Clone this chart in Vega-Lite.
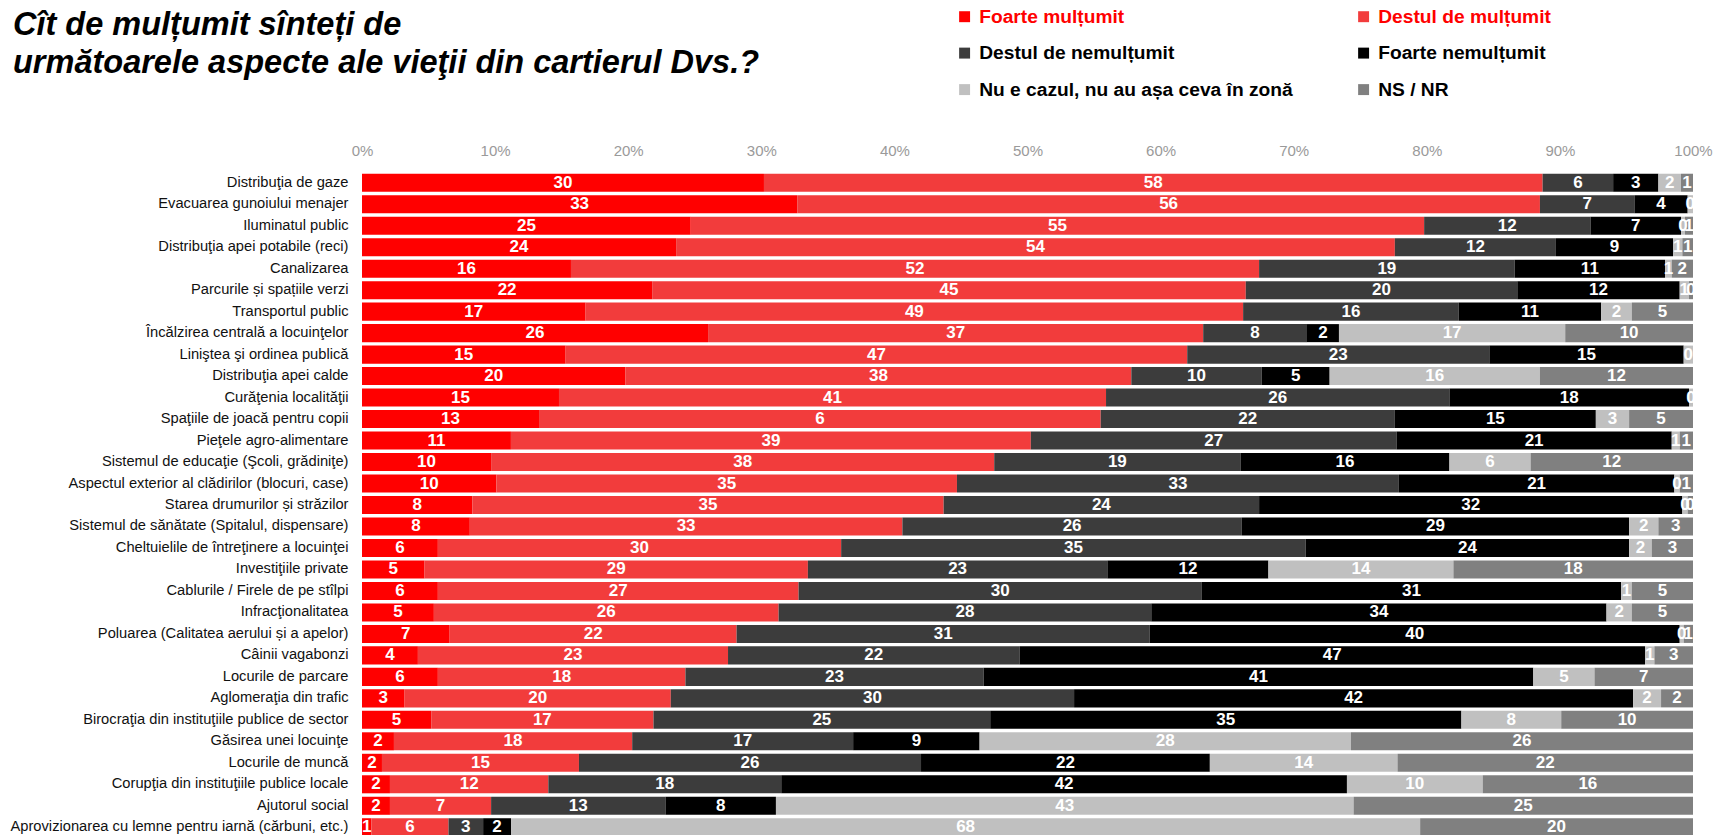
{
  "$schema": "https://vega.github.io/schema/vega-lite/v6.json",
  "autosize": "none",
  "width": 1331,
  "height": 666,
  "padding": {"left": 362, "top": 172, "right": 31, "bottom": 0},
  "background": "white",
  "title": {
    "text": ["Cît de mulțumit sînteți de", "următoarele aspecte ale vieţii din cartierul Dvs.?"],
    "anchor": "start",
    "frame": "group",
    "dx": -349,
    "dy": 72,
    "font": "Liberation Sans",
    "fontSize": 32.5,
    "fontWeight": "bold",
    "fontStyle": "italic",
    "color": "#000000",
    "lineHeight": 38,
    "offset": 0
  },
  "config": {
    "view": {"stroke": null},
    "font": "Liberation Sans"
  },
  "data": {
    "values": [
      {"a": "Distribuţia de gaze", "s": "Foarte mulțumit", "v": 30.2, "l": "30"},
      {"a": "Distribuţia de gaze", "s": "Destul de mulțumit", "v": 58.5, "l": "58"},
      {"a": "Distribuţia de gaze", "s": "Destul de nemulțumit", "v": 5.3, "l": "6"},
      {"a": "Distribuţia de gaze", "s": "Foarte nemulțumit", "v": 3.4, "l": "3"},
      {"a": "Distribuţia de gaze", "s": "Nu e cazul, nu au așa ceva în zonă", "v": 1.7, "l": "2"},
      {"a": "Distribuţia de gaze", "s": "NS / NR", "v": 0.9, "l": "1"},

      {"a": "Evacuarea gunoiului menajer", "s": "Foarte mulțumit", "v": 32.7, "l": "33"},
      {"a": "Evacuarea gunoiului menajer", "s": "Destul de mulțumit", "v": 55.8, "l": "56"},
      {"a": "Evacuarea gunoiului menajer", "s": "Destul de nemulțumit", "v": 7.1, "l": "7"},
      {"a": "Evacuarea gunoiului menajer", "s": "Foarte nemulțumit", "v": 4.0, "l": "4"},
      {"a": "Evacuarea gunoiului menajer", "s": "Nu e cazul, nu au așa ceva în zonă", "v": 0.4, "l": "0"},

      {"a": "Iluminatul public", "s": "Foarte mulțumit", "v": 24.7, "l": "25"},
      {"a": "Iluminatul public", "s": "Destul de mulțumit", "v": 55.1, "l": "55"},
      {"a": "Iluminatul public", "s": "Destul de nemulțumit", "v": 12.5, "l": "12"},
      {"a": "Iluminatul public", "s": "Foarte nemulțumit", "v": 6.8, "l": "7"},
      {"a": "Iluminatul public", "s": "Nu e cazul, nu au așa ceva în zonă", "v": 0.3, "l": "0"},
      {"a": "Iluminatul public", "s": "NS / NR", "v": 0.6, "l": "1"},

      {"a": "Distribuţia apei potabile (reci)", "s": "Foarte mulțumit", "v": 23.6, "l": "24"},
      {"a": "Distribuţia apei potabile (reci)", "s": "Destul de mulțumit", "v": 54.0, "l": "54"},
      {"a": "Distribuţia apei potabile (reci)", "s": "Destul de nemulțumit", "v": 12.1, "l": "12"},
      {"a": "Distribuţia apei potabile (reci)", "s": "Foarte nemulțumit", "v": 8.8, "l": "9"},
      {"a": "Distribuţia apei potabile (reci)", "s": "Nu e cazul, nu au așa ceva în zonă", "v": 0.7, "l": "1"},
      {"a": "Distribuţia apei potabile (reci)", "s": "NS / NR", "v": 0.8, "l": "1"},

      {"a": "Canalizarea", "s": "Foarte mulțumit", "v": 15.7, "l": "16"},
      {"a": "Canalizarea", "s": "Destul de mulțumit", "v": 51.7, "l": "52"},
      {"a": "Canalizarea", "s": "Destul de nemulțumit", "v": 19.2, "l": "19"},
      {"a": "Canalizarea", "s": "Foarte nemulțumit", "v": 11.3, "l": "11"},
      {"a": "Canalizarea", "s": "Nu e cazul, nu au așa ceva în zonă", "v": 0.5, "l": "1"},
      {"a": "Canalizarea", "s": "NS / NR", "v": 1.6, "l": "2"},

      {"a": "Parcurile și spațiile verzi", "s": "Foarte mulțumit", "v": 21.8, "l": "22"},
      {"a": "Parcurile și spațiile verzi", "s": "Destul de mulțumit", "v": 44.6, "l": "45"},
      {"a": "Parcurile și spațiile verzi", "s": "Destul de nemulțumit", "v": 20.4, "l": "20"},
      {"a": "Parcurile și spațiile verzi", "s": "Foarte nemulțumit", "v": 12.2, "l": "12"},
      {"a": "Parcurile și spațiile verzi", "s": "Nu e cazul, nu au așa ceva în zonă", "v": 0.7, "l": "1"},
      {"a": "Parcurile și spațiile verzi", "s": "NS / NR", "v": 0.3, "l": "0"},

      {"a": "Transportul public", "s": "Foarte mulțumit", "v": 16.8, "l": "17"},
      {"a": "Transportul public", "s": "Destul de mulțumit", "v": 49.4, "l": "49"},
      {"a": "Transportul public", "s": "Destul de nemulțumit", "v": 16.2, "l": "16"},
      {"a": "Transportul public", "s": "Foarte nemulțumit", "v": 10.7, "l": "11"},
      {"a": "Transportul public", "s": "Nu e cazul, nu au așa ceva în zonă", "v": 2.3, "l": "2"},
      {"a": "Transportul public", "s": "NS / NR", "v": 4.6, "l": "5"},

      {"a": "Încălzirea centrală a locuinţelor", "s": "Foarte mulțumit", "v": 26.0, "l": "26"},
      {"a": "Încălzirea centrală a locuinţelor", "s": "Destul de mulțumit", "v": 37.2, "l": "37"},
      {"a": "Încălzirea centrală a locuinţelor", "s": "Destul de nemulțumit", "v": 7.8, "l": "8"},
      {"a": "Încălzirea centrală a locuinţelor", "s": "Foarte nemulțumit", "v": 2.4, "l": "2"},
      {"a": "Încălzirea centrală a locuinţelor", "s": "Nu e cazul, nu au așa ceva în zonă", "v": 17.0, "l": "17"},
      {"a": "Încălzirea centrală a locuinţelor", "s": "NS / NR", "v": 9.6, "l": "10"},

      {"a": "Liniştea şi ordinea publică", "s": "Foarte mulțumit", "v": 15.3, "l": "15"},
      {"a": "Liniştea şi ordinea publică", "s": "Destul de mulțumit", "v": 46.7, "l": "47"},
      {"a": "Liniştea şi ordinea publică", "s": "Destul de nemulțumit", "v": 22.7, "l": "23"},
      {"a": "Liniştea şi ordinea publică", "s": "Foarte nemulțumit", "v": 14.6, "l": "15"},
      {"a": "Liniştea şi ordinea publică", "s": "Nu e cazul, nu au așa ceva în zonă", "v": 0.7, "l": "0"},

      {"a": "Distribuţia apei calde", "s": "Foarte mulțumit", "v": 19.8, "l": "20"},
      {"a": "Distribuţia apei calde", "s": "Destul de mulțumit", "v": 38.0, "l": "38"},
      {"a": "Distribuţia apei calde", "s": "Destul de nemulțumit", "v": 9.8, "l": "10"},
      {"a": "Distribuţia apei calde", "s": "Foarte nemulțumit", "v": 5.1, "l": "5"},
      {"a": "Distribuţia apei calde", "s": "Nu e cazul, nu au așa ceva în zonă", "v": 15.8, "l": "16"},
      {"a": "Distribuţia apei calde", "s": "NS / NR", "v": 11.5, "l": "12"},

      {"a": "Curăţenia localităţii", "s": "Foarte mulțumit", "v": 14.8, "l": "15"},
      {"a": "Curăţenia localităţii", "s": "Destul de mulțumit", "v": 41.1, "l": "41"},
      {"a": "Curăţenia localităţii", "s": "Destul de nemulțumit", "v": 25.8, "l": "26"},
      {"a": "Curăţenia localităţii", "s": "Foarte nemulțumit", "v": 18.0, "l": "18"},
      {"a": "Curăţenia localităţii", "s": "Nu e cazul, nu au așa ceva în zonă", "v": 0.3, "l": "0"},

      {"a": "Spaţiile de joacă pentru copii", "s": "Foarte mulțumit", "v": 13.3, "l": "13"},
      {"a": "Spaţiile de joacă pentru copii", "s": "Destul de mulțumit", "v": 42.2, "l": "6"},
      {"a": "Spaţiile de joacă pentru copii", "s": "Destul de nemulțumit", "v": 22.1, "l": "22"},
      {"a": "Spaţiile de joacă pentru copii", "s": "Foarte nemulțumit", "v": 15.1, "l": "15"},
      {"a": "Spaţiile de joacă pentru copii", "s": "Nu e cazul, nu au așa ceva în zonă", "v": 2.5, "l": "3"},
      {"a": "Spaţiile de joacă pentru copii", "s": "NS / NR", "v": 4.8, "l": "5"},

      {"a": "Pieţele agro-alimentare", "s": "Foarte mulțumit", "v": 11.2, "l": "11"},
      {"a": "Pieţele agro-alimentare", "s": "Destul de mulțumit", "v": 39.1, "l": "39"},
      {"a": "Pieţele agro-alimentare", "s": "Destul de nemulțumit", "v": 27.5, "l": "27"},
      {"a": "Pieţele agro-alimentare", "s": "Foarte nemulțumit", "v": 20.7, "l": "21"},
      {"a": "Pieţele agro-alimentare", "s": "Nu e cazul, nu au așa ceva în zonă", "v": 0.6, "l": "1"},
      {"a": "Pieţele agro-alimentare", "s": "NS / NR", "v": 1.0, "l": "1"},

      {"a": "Sistemul de educaţie (Şcoli, grădiniţe)", "s": "Foarte mulțumit", "v": 9.7, "l": "10"},
      {"a": "Sistemul de educaţie (Şcoli, grădiniţe)", "s": "Destul de mulțumit", "v": 37.8, "l": "38"},
      {"a": "Sistemul de educaţie (Şcoli, grădiniţe)", "s": "Destul de nemulțumit", "v": 18.5, "l": "19"},
      {"a": "Sistemul de educaţie (Şcoli, grădiniţe)", "s": "Foarte nemulțumit", "v": 15.7, "l": "16"},
      {"a": "Sistemul de educaţie (Şcoli, grădiniţe)", "s": "Nu e cazul, nu au așa ceva în zonă", "v": 6.1, "l": "6"},
      {"a": "Sistemul de educaţie (Şcoli, grădiniţe)", "s": "NS / NR", "v": 12.2, "l": "12"},

      {"a": "Aspectul exterior al clădirilor (blocuri, case)", "s": "Foarte mulțumit", "v": 10.1, "l": "10"},
      {"a": "Aspectul exterior al clădirilor (blocuri, case)", "s": "Destul de mulțumit", "v": 34.6, "l": "35"},
      {"a": "Aspectul exterior al clădirilor (blocuri, case)", "s": "Destul de nemulțumit", "v": 33.2, "l": "33"},
      {"a": "Aspectul exterior al clădirilor (blocuri, case)", "s": "Foarte nemulțumit", "v": 20.7, "l": "21"},
      {"a": "Aspectul exterior al clădirilor (blocuri, case)", "s": "Nu e cazul, nu au așa ceva în zonă", "v": 0.4, "l": "0"},
      {"a": "Aspectul exterior al clădirilor (blocuri, case)", "s": "NS / NR", "v": 1.0, "l": "1"},

      {"a": "Starea drumurilor și străzilor", "s": "Foarte mulțumit", "v": 8.3, "l": "8"},
      {"a": "Starea drumurilor și străzilor", "s": "Destul de mulțumit", "v": 35.4, "l": "35"},
      {"a": "Starea drumurilor și străzilor", "s": "Destul de nemulțumit", "v": 23.7, "l": "24"},
      {"a": "Starea drumurilor și străzilor", "s": "Foarte nemulțumit", "v": 31.8, "l": "32"},
      {"a": "Starea drumurilor și străzilor", "s": "Nu e cazul, nu au așa ceva în zonă", "v": 0.4, "l": "0"},
      {"a": "Starea drumurilor și străzilor", "s": "NS / NR", "v": 0.4, "l": "0"},

      {"a": "Sistemul de sănătate (Spitalul, dispensare)", "s": "Foarte mulțumit", "v": 8.1, "l": "8"},
      {"a": "Sistemul de sănătate (Spitalul, dispensare)", "s": "Destul de mulțumit", "v": 32.5, "l": "33"},
      {"a": "Sistemul de sănătate (Spitalul, dispensare)", "s": "Destul de nemulțumit", "v": 25.5, "l": "26"},
      {"a": "Sistemul de sănătate (Spitalul, dispensare)", "s": "Foarte nemulțumit", "v": 29.1, "l": "29"},
      {"a": "Sistemul de sănătate (Spitalul, dispensare)", "s": "Nu e cazul, nu au așa ceva în zonă", "v": 2.2, "l": "2"},
      {"a": "Sistemul de sănătate (Spitalul, dispensare)", "s": "NS / NR", "v": 2.6, "l": "3"},

      {"a": "Cheltuielile de întreţinere a locuinţei", "s": "Foarte mulțumit", "v": 5.7, "l": "6"},
      {"a": "Cheltuielile de întreţinere a locuinţei", "s": "Destul de mulțumit", "v": 30.3, "l": "30"},
      {"a": "Cheltuielile de întreţinere a locuinţei", "s": "Destul de nemulțumit", "v": 34.9, "l": "35"},
      {"a": "Cheltuielile de întreţinere a locuinţei", "s": "Foarte nemulțumit", "v": 24.3, "l": "24"},
      {"a": "Cheltuielile de întreţinere a locuinţei", "s": "Nu e cazul, nu au așa ceva în zonă", "v": 1.7, "l": "2"},
      {"a": "Cheltuielile de întreţinere a locuinţei", "s": "NS / NR", "v": 3.1, "l": "3"},

      {"a": "Investiţiile private", "s": "Foarte mulțumit", "v": 4.7, "l": "5"},
      {"a": "Investiţiile private", "s": "Destul de mulțumit", "v": 28.8, "l": "29"},
      {"a": "Investiţiile private", "s": "Destul de nemulțumit", "v": 22.5, "l": "23"},
      {"a": "Investiţiile private", "s": "Foarte nemulțumit", "v": 12.1, "l": "12"},
      {"a": "Investiţiile private", "s": "Nu e cazul, nu au așa ceva în zonă", "v": 13.9, "l": "14"},
      {"a": "Investiţiile private", "s": "NS / NR", "v": 18.0, "l": "18"},

      {"a": "Cablurile / Firele de pe stîlpi", "s": "Foarte mulțumit", "v": 5.7, "l": "6"},
      {"a": "Cablurile / Firele de pe stîlpi", "s": "Destul de mulțumit", "v": 27.1, "l": "27"},
      {"a": "Cablurile / Firele de pe stîlpi", "s": "Destul de nemulțumit", "v": 30.3, "l": "30"},
      {"a": "Cablurile / Firele de pe stîlpi", "s": "Foarte nemulțumit", "v": 31.5, "l": "31"},
      {"a": "Cablurile / Firele de pe stîlpi", "s": "Nu e cazul, nu au așa ceva în zonă", "v": 0.8, "l": "1"},
      {"a": "Cablurile / Firele de pe stîlpi", "s": "NS / NR", "v": 4.6, "l": "5"},

      {"a": "Infracţionalitatea", "s": "Foarte mulțumit", "v": 5.4, "l": "5"},
      {"a": "Infracţionalitatea", "s": "Destul de mulțumit", "v": 25.9, "l": "26"},
      {"a": "Infracţionalitatea", "s": "Destul de nemulțumit", "v": 28.0, "l": "28"},
      {"a": "Infracţionalitatea", "s": "Foarte nemulțumit", "v": 34.2, "l": "34"},
      {"a": "Infracţionalitatea", "s": "Nu e cazul, nu au așa ceva în zonă", "v": 1.9, "l": "2"},
      {"a": "Infracţionalitatea", "s": "NS / NR", "v": 4.6, "l": "5"},

      {"a": "Poluarea (Calitatea aerului și a apelor)", "s": "Foarte mulțumit", "v": 6.6, "l": "7"},
      {"a": "Poluarea (Calitatea aerului și a apelor)", "s": "Destul de mulțumit", "v": 21.6, "l": "22"},
      {"a": "Poluarea (Calitatea aerului și a apelor)", "s": "Destul de nemulțumit", "v": 31.1, "l": "31"},
      {"a": "Poluarea (Calitatea aerului și a apelor)", "s": "Foarte nemulțumit", "v": 39.9, "l": "40"},
      {"a": "Poluarea (Calitatea aerului și a apelor)", "s": "Nu e cazul, nu au așa ceva în zonă", "v": 0.3, "l": "0"},
      {"a": "Poluarea (Calitatea aerului și a apelor)", "s": "NS / NR", "v": 0.7, "l": "1"},

      {"a": "Câinii vagabonzi", "s": "Foarte mulțumit", "v": 4.2, "l": "4"},
      {"a": "Câinii vagabonzi", "s": "Destul de mulțumit", "v": 23.3, "l": "23"},
      {"a": "Câinii vagabonzi", "s": "Destul de nemulțumit", "v": 21.9, "l": "22"},
      {"a": "Câinii vagabonzi", "s": "Foarte nemulțumit", "v": 47.0, "l": "47"},
      {"a": "Câinii vagabonzi", "s": "Nu e cazul, nu au așa ceva în zonă", "v": 0.7, "l": "1"},
      {"a": "Câinii vagabonzi", "s": "NS / NR", "v": 2.9, "l": "3"},

      {"a": "Locurile de parcare", "s": "Foarte mulțumit", "v": 5.7, "l": "6"},
      {"a": "Locurile de parcare", "s": "Destul de mulțumit", "v": 18.6, "l": "18"},
      {"a": "Locurile de parcare", "s": "Destul de nemulțumit", "v": 22.4, "l": "23"},
      {"a": "Locurile de parcare", "s": "Foarte nemulțumit", "v": 41.3, "l": "41"},
      {"a": "Locurile de parcare", "s": "Nu e cazul, nu au așa ceva în zonă", "v": 4.6, "l": "5"},
      {"a": "Locurile de parcare", "s": "NS / NR", "v": 7.4, "l": "7"},

      {"a": "Aglomeraţia din trafic", "s": "Foarte mulțumit", "v": 3.2, "l": "3"},
      {"a": "Aglomeraţia din trafic", "s": "Destul de mulțumit", "v": 20.0, "l": "20"},
      {"a": "Aglomeraţia din trafic", "s": "Destul de nemulțumit", "v": 30.3, "l": "30"},
      {"a": "Aglomeraţia din trafic", "s": "Foarte nemulțumit", "v": 42.0, "l": "42"},
      {"a": "Aglomeraţia din trafic", "s": "Nu e cazul, nu au așa ceva în zonă", "v": 2.1, "l": "2"},
      {"a": "Aglomeraţia din trafic", "s": "NS / NR", "v": 2.4, "l": "2"},

      {"a": "Birocraţia din instituţiile publice de sector", "s": "Foarte mulțumit", "v": 5.2, "l": "5"},
      {"a": "Birocraţia din instituţiile publice de sector", "s": "Destul de mulțumit", "v": 16.7, "l": "17"},
      {"a": "Birocraţia din instituţiile publice de sector", "s": "Destul de nemulțumit", "v": 25.3, "l": "25"},
      {"a": "Birocraţia din instituţiile publice de sector", "s": "Foarte nemulțumit", "v": 35.4, "l": "35"},
      {"a": "Birocraţia din instituţiile publice de sector", "s": "Nu e cazul, nu au așa ceva în zonă", "v": 7.5, "l": "8"},
      {"a": "Birocraţia din instituţiile publice de sector", "s": "NS / NR", "v": 9.9, "l": "10"},

      {"a": "Găsirea unei locuinţe", "s": "Foarte mulțumit", "v": 2.4, "l": "2"},
      {"a": "Găsirea unei locuinţe", "s": "Destul de mulțumit", "v": 17.9, "l": "18"},
      {"a": "Găsirea unei locuinţe", "s": "Destul de nemulțumit", "v": 16.6, "l": "17"},
      {"a": "Găsirea unei locuinţe", "s": "Foarte nemulțumit", "v": 9.5, "l": "9"},
      {"a": "Găsirea unei locuinţe", "s": "Nu e cazul, nu au așa ceva în zonă", "v": 27.9, "l": "28"},
      {"a": "Găsirea unei locuinţe", "s": "NS / NR", "v": 25.7, "l": "26"},

      {"a": "Locurile de muncă", "s": "Foarte mulțumit", "v": 1.5, "l": "2"},
      {"a": "Locurile de muncă", "s": "Destul de mulțumit", "v": 14.8, "l": "15"},
      {"a": "Locurile de muncă", "s": "Destul de nemulțumit", "v": 25.7, "l": "26"},
      {"a": "Locurile de muncă", "s": "Foarte nemulțumit", "v": 21.7, "l": "22"},
      {"a": "Locurile de muncă", "s": "Nu e cazul, nu au așa ceva în zonă", "v": 14.1, "l": "14"},
      {"a": "Locurile de muncă", "s": "NS / NR", "v": 22.2, "l": "22"},

      {"a": "Corupţia din instituţiile publice locale", "s": "Foarte mulțumit", "v": 2.1, "l": "2"},
      {"a": "Corupţia din instituţiile publice locale", "s": "Destul de mulțumit", "v": 11.9, "l": "12"},
      {"a": "Corupţia din instituţiile publice locale", "s": "Destul de nemulțumit", "v": 17.5, "l": "18"},
      {"a": "Corupţia din instituţiile publice locale", "s": "Foarte nemulțumit", "v": 42.5, "l": "42"},
      {"a": "Corupţia din instituţiile publice locale", "s": "Nu e cazul, nu au așa ceva în zonă", "v": 10.2, "l": "10"},
      {"a": "Corupţia din instituţiile publice locale", "s": "NS / NR", "v": 15.8, "l": "16"},

      {"a": "Ajutorul social", "s": "Foarte mulțumit", "v": 2.1, "l": "2"},
      {"a": "Ajutorul social", "s": "Destul de mulțumit", "v": 7.6, "l": "7"},
      {"a": "Ajutorul social", "s": "Destul de nemulțumit", "v": 13.1, "l": "13"},
      {"a": "Ajutorul social", "s": "Foarte nemulțumit", "v": 8.3, "l": "8"},
      {"a": "Ajutorul social", "s": "Nu e cazul, nu au așa ceva în zonă", "v": 43.4, "l": "43"},
      {"a": "Ajutorul social", "s": "NS / NR", "v": 25.5, "l": "25"},

      {"a": "Aprovizionarea cu lemne pentru iarnă (cărbuni, etc.)", "s": "Foarte mulțumit", "v": 0.7, "l": "1"},
      {"a": "Aprovizionarea cu lemne pentru iarnă (cărbuni, etc.)", "s": "Destul de mulțumit", "v": 5.8, "l": "6"},
      {"a": "Aprovizionarea cu lemne pentru iarnă (cărbuni, etc.)", "s": "Destul de nemulțumit", "v": 2.6, "l": "3"},
      {"a": "Aprovizionarea cu lemne pentru iarnă (cărbuni, etc.)", "s": "Foarte nemulțumit", "v": 2.1, "l": "2"},
      {"a": "Aprovizionarea cu lemne pentru iarnă (cărbuni, etc.)", "s": "Nu e cazul, nu au așa ceva în zonă", "v": 68.3, "l": "68"},
      {"a": "Aprovizionarea cu lemne pentru iarnă (cărbuni, etc.)", "s": "NS / NR", "v": 20.5, "l": "20"}
    ]
  },
  "transform": [
    {"calculate": "indexof(['Foarte mulțumit','Destul de mulțumit','Destul de nemulțumit','Foarte nemulțumit','Nu e cazul, nu au așa ceva în zonă','NS / NR'], datum.s)", "as": "k"},
    {"stack": "v", "groupby": ["a"], "sort": [{"field": "k", "order": "ascending"}], "offset": "normalize", "as": ["x0", "x1"]},
    {"calculate": "(datum.x0 + datum.x1) / 2", "as": "xm"}
  ],
  "encoding": {
    "y": {
      "field": "a",
      "type": "nominal",
      "sort": null,
      "title": null,
      "scale": {"paddingInner": 0.16, "paddingOuter": 0.08},
      "axis": {
        "orient": "left",
        "domain": false,
        "ticks": false,
        "tickSize": 0,
        "labelPadding": 14,
        "labelFont": "Liberation Sans",
        "labelFontSize": 14.7,
        "labelColor": "#111111",
        "labelLimit": 400
      }
    }
  },
  "layer": [
    {
      "mark": {"type": "bar"},
      "encoding": {
        "x": {
          "field": "x0",
          "type": "quantitative",
          "title": null,
          "scale": {"domain": [0, 1], "nice": false, "zero": true},
          "axis": {
            "orient": "top",
            "format": ".0%",
            "values": [0, 0.1, 0.2, 0.3, 0.4, 0.5, 0.6, 0.7, 0.8, 0.9, 1],
            "domain": false,
            "ticks": false,
            "tickSize": 0,
            "grid": false,
            "labelPadding": 14,
            "labelFont": "Liberation Sans",
            "labelFontSize": 15,
            "labelColor": "#9a9a9a",
            "labelFlush": false
          }
        },
        "x2": {"field": "x1"},
        "color": {
          "field": "s",
          "type": "nominal",
          "scale": {
            "domain": ["Foarte mulțumit", "Destul de mulțumit", "Destul de nemulțumit", "Foarte nemulțumit", "Nu e cazul, nu au așa ceva în zonă", "NS / NR"],
            "range": ["#ff0000", "#f23c3c", "#3c3c3c", "#000000", "#c0c0c0", "#808080"]
          },
          "legend": {
            "title": null,
            "orient": "none",
            "legendX": 593,
            "legendY": -165,
            "columns": 2,
            "direction": "horizontal",
            "symbolType": "square",
            "symbolSize": 120,
            "symbolStrokeWidth": 0,
            "labelFont": "Liberation Sans",
            "labelFontWeight": "bold",
            "labelFontSize": 19.2,
            "labelLimit": 500,
            "labelOffset": 5,
            "rowPadding": 16.5,
            "columnPadding": 61,
            "encode": {
              "labels": {
                "update": {
                  "fill": {"signal": "indexof(['Foarte mulțumit','Destul de mulțumit'], datum.label) >= 0 ? '#ff0000' : '#000000'"}
                }
              }
            }
          }
        }
      }
    },
    {
      "mark": {"type": "text", "color": "#ffffff", "font": "Liberation Sans", "fontWeight": "bold", "fontSize": 17, "baseline": "middle", "align": "center", "clip": true},
      "encoding": {
        "x": {"field": "xm", "type": "quantitative"},
        "text": {"field": "l"}
      }
    }
  ]
}
